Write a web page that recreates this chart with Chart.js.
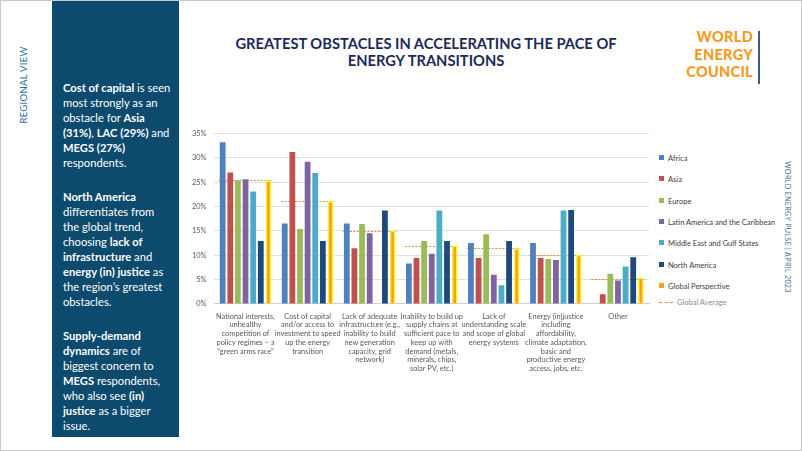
<!DOCTYPE html>
<html>
<head>
<meta charset="utf-8">
<script src="https://cdn.jsdelivr.net/npm/chart.js@4.4.0/dist/chart.umd.min.js"></script>
<style>
  html, body { margin: 0; padding: 0; background: #fff; }
  #page { position: relative; width: 802px; height: 451px; overflow: hidden; box-sizing: border-box; border: 1px solid #c8c8c8; font-family: Lato, "Noto Sans", sans-serif; }
  #side { position: absolute; left: 51px; top: -1px; width: 127px; height: 437px; background: #0c4a6e; }
  #sideText { position: absolute; left: 11px; top: 80px; width: 120px; color: #fff; font-size: 11.2px; line-height: 15px; }
  #sideText p { margin: 0 0 19px 0; }
  #regional { position: absolute; left: 22px; top: 84px; transform: translate(-50%, -50%) rotate(-90deg); color: #2e6da4; font-size: 9.5px; letter-spacing: 0.3px; white-space: nowrap; }
  #pulse { position: absolute; left: 786px; top: 226px; transform: translate(-50%, -50%) rotate(90deg); color: #3f6f9a; font-size: 7.2px; letter-spacing: 0.3px; white-space: nowrap; }
  #title { position: absolute; left: 180px; width: 490px; top: 34px; text-align: center; color: #1c2a5a; font-weight: bold; font-size: 14.7px; line-height: 17px; }
  #logo { position: absolute; right: 48px; top: 27px; text-align: right; color: #f39a1e; font-weight: 900; font-size: 14.5px; line-height: 17.5px; letter-spacing: 0.3px; }
  #logoBar { position: absolute; left: 757px; top: 30px; width: 1.5px; height: 53px; background: #2e5f8f; }
  #chartBox { position: absolute; left: 183px; top: 120px; width: 470px; height: 252px; }
  #legend { position: absolute; left: 658px; top: 0; font-size: 7.5px; color: #404040; }
  #legend .item { position: absolute; left: 0; white-space: nowrap; height: 10px; line-height: 10px; }
  #legend .box { display: inline-block; width: 5px; height: 5px; margin-right: 4px; vertical-align: 1px; }
  #legend .line { display: inline-block; width: 14px; height: 0; border-top: 1px dashed; margin-right: 4px; vertical-align: 2px; }
</style>
</head>
<body>
<div id="page">
  <div id="regional">REGIONAL VIEW</div>
  <div id="side">
    <div id="sideText">
      <p><b>Cost of capital</b> is seen<br>most strongly as an<br>obstacle for <b>Asia</b><br><b>(31%)</b>, <b>LAC (29%)</b> and<br><b>MEGS (27%)</b><br>respondents.</p>
      <p><b>North America</b><br>differentiates from<br>the global trend,<br>choosing <b>lack of</b><br><b>infrastructure</b> and<br><b>energy (in) justice</b> as<br>the region’s greatest<br>obstacles.</p>
      <p><b>Supply-demand</b><br><b>dynamics</b> are of<br>biggest concern to<br><b>MEGS</b> respondents,<br>who also see <b>(in)</b><br><b>justice</b> as a bigger<br>issue.</p>
    </div>
  </div>
  <div id="title">GREATEST OBSTACLES IN ACCELERATING THE PACE OF<br>ENERGY TRANSITIONS</div>
  <div id="logo">WORLD<br>ENERGY<br>COUNCIL</div>
  <div id="logoBar"></div>
  <div id="pulse">WORLD ENERGY PULSE | APRIL 2023</div>
  <div id="chartBox"><canvas id="chart"></canvas></div>
  <div id="legend"></div>
</div>
<script>
// categories (multi-line labels as drawn under the axis)
const categories = [
  ["National interests,", "unhealthy", "competition of", "policy regimes – a", "“green arms race”"],
  ["Cost of capital", "and/or access to", "investment to speed", "up the energy", "transition"],
  ["Lack of adequate", "infrastructure (e.g.,", "inability to build", "new generation", "capacity, grid", "network)"],
  ["Inability to build up", "supply chains at", "sufficient pace to", "keep up with", "demand (metals,", "minerals, chips,", "solar PV, etc.)"],
  ["Lack of", "understanding scale", "and scope of global", "energy systems"],
  ["Energy (in)justice", "including", "affordability,", "climate adaptation,", "basic and", "productive energy", "access, jobs, etc."],
  ["Other"]
];

// % of respondents per region
const africa = [33.2, 16.5, 16.5, 8.3, 12.5, 12.5, 0];
const asia = [27.0, 31.2, 11.4, 9.4, 9.4, 9.4, 2.0];
const europe = [25.4, 15.4, 16.4, 12.9, 14.3, 9.2, 6.2];
const latam = [25.6, 29.2, 14.5, 10.3, 6.0, 9.0, 4.8];
const megs = [23.1, 26.9, 0, 19.2, 3.8, 19.2, 7.7];
const northAmerica = [12.9, 12.9, 19.2, 12.9, 12.9, 19.3, 9.6];
const globalPerspective = [25.4, 21.1, 15.0, 12.0, 11.4, 10.1, 5.4];
const globalAverage = [25.4, 21.1, 15.0, 11.9, 11.4, 10.1, 5.2];

const yTicks = [0, 5, 10, 15, 20, 25, 30, 35];

const avgColor = '#ec8c44';

// dashed "Global Average" line across each category group, behind the bars
const avgLines = {
  id: 'avgLines',
  beforeDatasetsDraw(chart) {
    const ctx = chart.ctx;
    const x = chart.scales.x, y = chart.scales.y;
    const half = x.width / categories.length * 0.86 / 2;
    ctx.save();
    ctx.strokeStyle = avgColor;
    ctx.lineWidth = 1;
    ctx.setLineDash([2, 1.5]);
    globalAverage.forEach((v, i) => {
      const cx = x.getPixelForValue(i);
      const py = Math.round(y.getPixelForValue(v)) + 0.5;
      ctx.beginPath();
      ctx.moveTo(cx - half, py);
      ctx.lineTo(cx + half, py);
      ctx.stroke();
    });
    ctx.restore();
  }
};

// legend built as html next to the chart, from the datasets
const htmlLegend = {
  id: 'htmlLegend',
  afterUpdate(chart) {
    const box = document.getElementById('legend');
    box.innerHTML = '';
    chart.data.datasets.forEach((d, i) => {
      const el = document.createElement('div');
      el.className = 'item';
      el.style.top = (153 + i * 21.3) + 'px';
      el.innerHTML = '<span class="box" style="background:' + d.backgroundColor + '"></span>' + d.label;
      box.appendChild(el);
    });
    const avg = document.createElement('div');
    avg.className = 'item';
    avg.style.top = '297px';
    avg.style.color = '#8c8c8c';
    avg.innerHTML = '<span class="line" style="border-color:' + avgColor + '"></span>Global Average';
    box.appendChild(avg);
  }
};

function bar(label, data, color) {
  return { label: label, data: data, backgroundColor: color, borderWidth: 0,
           categoryPercentage: 0.86, barPercentage: 0.76 };
}

const datasets = [
  bar('Africa', africa, '#4f81bd'),
  bar('Asia', asia, '#c0504d'),
  bar('Europe', europe, '#9bbb59'),
  bar('Latin America and the Caribbean', latam, '#8064a2'),
  bar('Middle East and Gulf States', megs, '#4bacc6'),
  bar('North America', northAmerica, '#1f497d'),
  Object.assign(bar('Global Perspective', globalPerspective, '#f7a12a'), { borderColor: '#ffff00', borderWidth: 1.5 })
];

new Chart(document.getElementById('chart'), {
  type: 'bar',
  data: { labels: categories, datasets: datasets },
  plugins: [avgLines, htmlLegend],
  options: {
    responsive: true,
    maintainAspectRatio: false,
    animation: false,
    layout: { padding: { left: 0, right: 5, top: 4, bottom: 0 } },
    plugins: {
      tooltip: { enabled: false },
      legend: { display: false }
    },
    scales: {
      x: {
        grid: { display: false },
        border: { color: '#d0d0d0' },
        ticks: { color: '#595959', font: { family: 'Lato', size: 7.4, lineHeight: 1.18 }, maxRotation: 0, autoSkip: false, padding: 0 }
      },
      y: {
        min: 0, max: 35,
        afterBuildTicks(axis) { axis.ticks = yTicks.map(v => ({ value: v })); },
        grid: { color: '#e0e0e0', drawTicks: false },
        border: { display: false },
        ticks: { color: '#595959', font: { family: 'Lato', size: 7.4 }, padding: 8, callback: v => v + '%' }
      }
    }
  }
});
</script>
</body>
</html>
